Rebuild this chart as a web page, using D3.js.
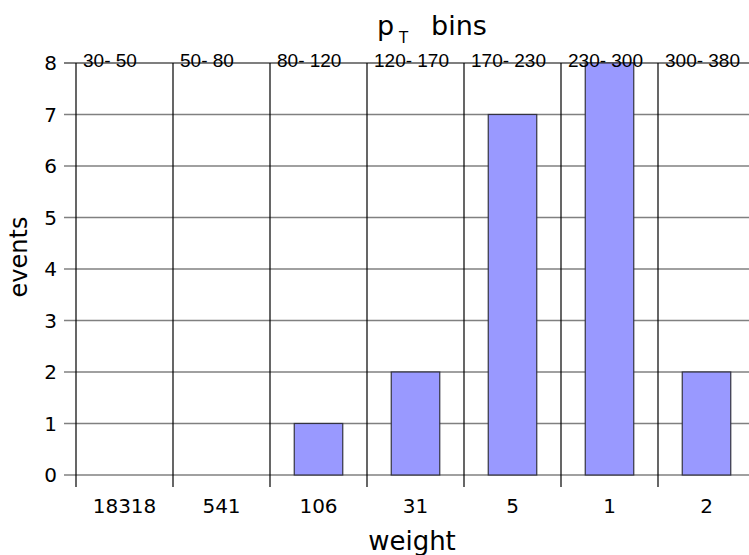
<!DOCTYPE html>
<html>
<head>
<meta charset="utf-8">
<script src="https://cdn.jsdelivr.net/npm/d3@7"></script>
<style>
  html, body { margin: 0; padding: 0; background: #fff; }
  svg { display: block; }
</style>
</head>
<body>
<svg id="chart" width="749" height="555"></svg>
<script>
// Event counts per pT bin, with the per-bin weight shown underneath
const ptBins  = ["30- 50", "50- 80", "80- 120", "120- 170", "170- 230", "230- 300", "300- 380"];
const weights = ["18318", "541", "106", "31", "5", "1", "2"];
const events  = [0, 0, 1, 2, 7, 8, 2];
const yTicks  = [0, 1, 2, 3, 4, 5, 6, 7, 8];

const svg = d3.select("#chart");
const margin = { left: 76, top: 63, bottom: 80 };
const bandW = 97;
const x0 = margin.left, x1 = margin.left + bandW * ptBins.length;
const yTop = margin.top, yBot = 555 - margin.bottom;

const x = d3.scaleBand().domain(d3.range(ptBins.length)).range([x0, x1]).paddingInner(0).paddingOuter(0);
const y = d3.scaleLinear().domain([0, 8]).range([yBot, yTop]);

const axisFont = "DejaVu Sans, sans-serif";

// horizontal grid lines with left tick stubs
svg.append("g").selectAll("line").data(yTicks.filter(d => d < 8)).join("line")
  .attr("x1", x0 - 12).attr("x2", 749)
  .attr("y1", d => y(d)).attr("y2", d => y(d))
  .attr("stroke", "#808080").attr("stroke-width", 1.6);

// top frame line
svg.append("line")
  .attr("x1", x0 - 12).attr("x2", 749)
  .attr("y1", y(8)).attr("y2", y(8))
  .attr("stroke", "#000").attr("stroke-width", 1.2);

// vertical bin separators extending below the axis as ticks
const edges = d3.range(ptBins.length).map(i => x(i));
svg.append("g").selectAll("line").data(edges).join("line")
  .attr("x1", d => d).attr("x2", d => d)
  .attr("y1", y(8)).attr("y2", yBot + 12)
  .attr("stroke", "#000").attr("stroke-width", 1.2);

// bars, half the bin width, centred in each bin
const barW = x.bandwidth() / 2;
svg.append("g").selectAll("rect").data(events).join("rect")
  .attr("x", (d, i) => x(i) + (x.bandwidth() - barW) / 2)
  .attr("width", barW)
  .attr("y", d => y(d))
  .attr("height", d => yBot - y(d))
  .attr("fill", "#9999ff")
  .attr("stroke", "#333340").attr("stroke-width", 1.2);

// y tick labels
svg.append("g").selectAll("text").data(yTicks).join("text")
  .attr("x", x0 - 19).attr("y", d => y(d)).attr("dy", "0.36em")
  .attr("text-anchor", "end")
  .attr("font-family", axisFont).attr("font-size", 20)
  .text(d => d);

// bottom weight labels
svg.append("g").selectAll("text").data(weights).join("text")
  .attr("x", (d, i) => x(i) + x.bandwidth() / 2).attr("y", 513)
  .attr("text-anchor", "middle")
  .attr("font-family", axisFont).attr("font-size", 20)
  .text(d => d);

// top pT bin labels
svg.append("g").selectAll("text").data(ptBins).join("text")
  .attr("x", (d, i) => x(i) + 7).attr("y", 66.5)
  .attr("font-family", "Liberation Sans, Arial, sans-serif").attr("font-size", 19)
  .text(d => d);

// axis titles
svg.append("text")
  .attr("x", 412).attr("y", 550)
  .attr("text-anchor", "middle")
  .attr("font-family", axisFont).attr("font-size", 26)
  .text("weight");

svg.append("text")
  .attr("transform", "translate(27,257) rotate(-90)")
  .attr("text-anchor", "middle")
  .attr("font-family", axisFont).attr("font-size", 24)
  .text("events");

// title with subscript T
const titleFont = "DejaVu Sans, sans-serif";
const title = svg.append("text")
  .attr("y", 35)
  .attr("font-family", titleFont).attr("font-size", 27);
title.append("tspan").attr("x", 377).text("p");
title.append("tspan").attr("x", 399).attr("font-size", 15).attr("dy", 8).text("T");
title.append("tspan").attr("x", 431).attr("dy", -8).text("bins");
</script>
</body>
</html>
